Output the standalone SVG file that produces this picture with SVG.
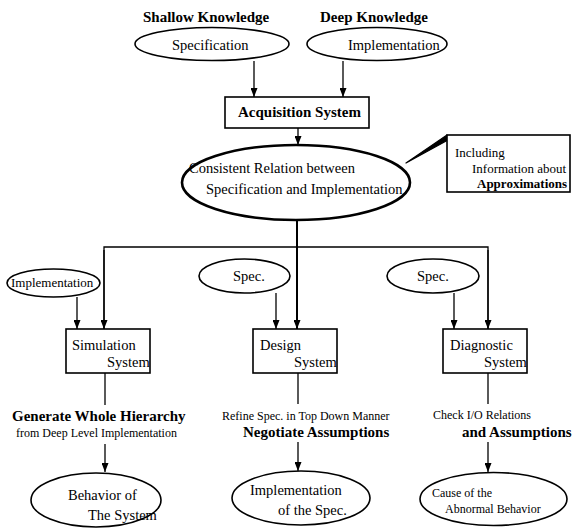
<svg xmlns="http://www.w3.org/2000/svg" width="581" height="529" viewBox="0 0 581 529">
<defs>
<marker id="ah" markerUnits="userSpaceOnUse" markerWidth="9" markerHeight="7" viewBox="0 0 9 7" refX="9" refY="3.5" orient="auto">
<path d="M0,0 L9,3.5 L0,7 z" fill="#000"/>
</marker>
<style>
text{font-family:"Liberation Serif","Times New Roman",serif;fill:#000}
.r{font-size:14.5px}
.s{font-size:12px}
.m{font-size:13px}
.b{font-size:15px;font-weight:bold}
.node{fill:#fff;stroke:#000;stroke-width:1.6}
.thick{fill:#fff;stroke:#000;stroke-width:2.6}
.ln{fill:none;stroke:#000;stroke-width:1.3}
.arr{fill:none;stroke:#000;stroke-width:1.3;marker-end:url(#ah)}
</style>
</defs>
<rect width="581" height="529" fill="#fff"/>

<g id="connectors">
<line class="arr" x1="254" y1="61" x2="254" y2="97"/>
<line class="arr" x1="343" y1="61" x2="343" y2="97"/>
<line class="arr" x1="298" y1="128" x2="298" y2="145"/>
<line x1="297" y1="220" x2="297" y2="329" stroke="#000" stroke-width="2" marker-end="url(#ah)"/>
<polyline class="ln" points="104,329 104,247 488,247 488,329"/>
<line class="arr" x1="104" y1="250" x2="104" y2="329"/>
<line class="arr" x1="488" y1="250" x2="488" y2="329"/>
<line class="arr" x1="77" y1="297" x2="77" y2="329"/>
<line class="arr" x1="276" y1="293" x2="276" y2="329"/>
<line class="arr" x1="454" y1="293" x2="454" y2="329"/>
<line class="ln" x1="105" y1="373" x2="105" y2="405"/>
<line class="ln" x1="298" y1="373" x2="298" y2="404"/>
<line class="ln" x1="488" y1="373" x2="488" y2="404"/>
<line class="arr" x1="105" y1="444" x2="105" y2="472"/>
<line class="arr" x1="298" y1="442" x2="298" y2="471"/>
<line class="arr" x1="488" y1="442" x2="488" y2="472"/>
<polygon points="406,163 447,135 448,140" fill="#000" stroke="#000" stroke-width="1.2" stroke-linejoin="round"/>
</g>

<g id="shallow-knowledge">
<text class="b" x="143" y="22">Shallow Knowledge</text>
</g>
<g id="deep-knowledge">
<text class="b" x="320" y="22">Deep Knowledge</text>
</g>
<g id="specification">
<ellipse class="node" cx="212" cy="44" rx="77" ry="16.5"/>
<text class="r" x="172" y="50">Specification</text>
</g>
<g id="implementation-top">
<ellipse class="node" cx="377" cy="44" rx="70" ry="16.5"/>
<text class="r" x="348" y="50">Implementation</text>
</g>
<g id="acquisition-system">
<rect class="node" x="225" y="97" width="144" height="31"/>
<text class="b" x="238" y="117">Acquisition System</text>
</g>
<g id="consistent-relation">
<ellipse class="thick" cx="296" cy="182.5" rx="114" ry="37.5"/>
<text class="r" x="189" y="173">Consistent Relation between</text>
<text class="r" x="206" y="194">Specification and Implementation</text>
</g>
<g id="approximations-note">
<rect class="node" x="447" y="135" width="123" height="57"/>
<text class="m" x="455" y="157">Including</text>
<text class="m" x="472" y="173">Information about</text>
<text class="b" x="477" y="188" style="font-size:13px">Approximations</text>
</g>
<g id="implementation-left">
<ellipse class="node" cx="53.5" cy="283" rx="46.5" ry="14"/>
<text class="m" x="11" y="287">Implementation</text>
</g>
<g id="spec-middle">
<ellipse class="node" cx="244.5" cy="276" rx="45.5" ry="17"/>
<text class="r" x="233" y="281">Spec.</text>
</g>
<g id="spec-right">
<ellipse class="node" cx="433" cy="276" rx="46" ry="17"/>
<text class="r" x="417" y="281">Spec.</text>
</g>
<g id="simulation-system">
<rect class="node" x="66" y="329" width="84" height="44"/>
<text class="r" x="72" y="350">Simulation</text>
<text class="r" x="107" y="367">System</text>
</g>
<g id="design-system">
<rect class="node" x="253" y="329" width="84" height="44"/>
<text class="r" x="260" y="350">Design</text>
<text class="r" x="294" y="367">System</text>
</g>
<g id="diagnostic-system">
<rect class="node" x="443" y="329" width="84" height="44"/>
<text class="r" x="450" y="350">Diagnostic</text>
<text class="r" x="484" y="367">System</text>
</g>
<g id="simulation-label">
<text class="b" x="12" y="421">Generate Whole Hierarchy</text>
<text class="s" x="16" y="437">from Deep Level Implementation</text>
</g>
<g id="design-label">
<text class="s" x="222" y="420">Refine Spec. in Top Down Manner</text>
<text class="b" x="243" y="437">Negotiate Assumptions</text>
</g>
<g id="diagnostic-label">
<text class="s" x="433" y="419">Check I/O Relations</text>
<text class="b" x="462" y="437">and Assumptions</text>
</g>
<g id="behavior-of-system">
<ellipse class="node" cx="96" cy="500" rx="65" ry="27"/>
<text class="r" x="68" y="500">Behavior of</text>
<text class="r" x="88" y="520">The System</text>
</g>
<g id="implementation-of-spec">
<ellipse class="node" cx="301" cy="498" rx="69" ry="27"/>
<text class="r" x="250" y="495">Implementation</text>
<text class="r" x="278" y="515">of the Spec.</text>
</g>
<g id="cause-abnormal">
<ellipse class="node" cx="493.5" cy="499" rx="73.5" ry="26.5"/>
<text class="s" x="432" y="497">Cause of the</text>
<text class="s" x="445" y="513">Abnormal Behavior</text>
</g>
</svg>
